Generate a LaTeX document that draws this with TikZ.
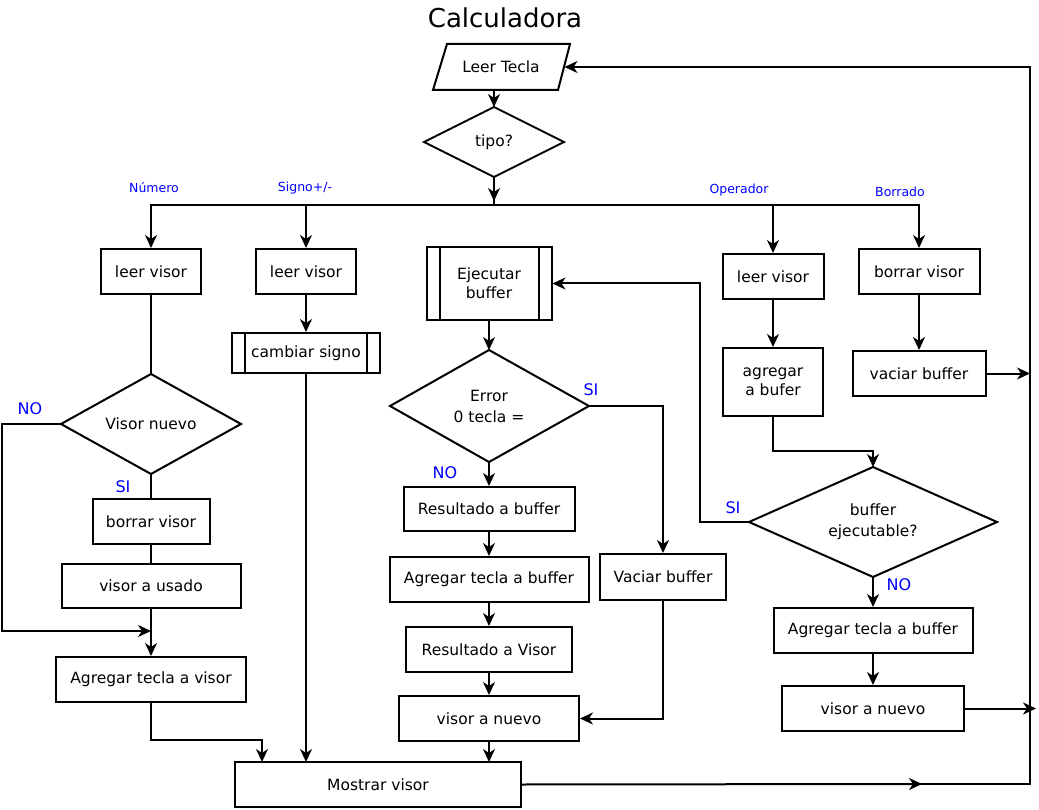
\documentclass[tikz,border=0pt]{standalone}
\usepackage{fontspec}
\setmainfont{DejaVu Sans}
\usetikzlibrary{arrows.meta}
\begin{document}
\begin{tikzpicture}[x=1pt,y=-1pt,line width=2pt,
 box/.style={draw,rectangle,inner sep=0pt,font=\fontsize{15.5}{19}\selectfont,align=center},
 lbl/.style={text=blue,font=\fontsize{12.5}{14}\selectfont},
 yn/.style={text=blue,font=\fontsize{16}{18}\selectfont},
 txt/.style={font=\fontsize{15.5}{21}\selectfont,align=center},
 arr/.style={-{Stealth[length=13pt,width=12pt,inset=4pt]}}]
\useasboundingbox (0,0) rectangle (1039,810);
\node[font=\fontsize{26}{30}\selectfont] (title) at (505,18) {Calculadora};
% Leer tecla
\draw (447,44) -- (570,44) -- (558,90) -- (433,90) -- cycle;
\node[txt,minimum width=125pt,minimum height=46pt,inner sep=0pt] (lt) at (501,67) {Leer Tecla};
% tipo diamond
\draw (494,107) -- (564,142) -- (494,177) -- (424,142) -- cycle;
\node[txt] (tipo) at (494,142) {tipo?};
\coordinate (tipoS) at (494,177);
\draw[arr] (494,90) -- (494,107);
\draw[arr] (tipoS) -- (494,201);
\draw (494,199) -- (494,205);
\draw (150,205) -- (920,205);
\node[lbl] (l1) at (154,188) {Número};
\node[lbl] (l2) at (305,188) {Signo+/-};
\node[lbl] (l3) at (739,190) {Operador};
\node[lbl] (l4) at (900,192) {Borrado};
% column 1
\node[box,minimum width=100pt,minimum height=45pt] (lv1) at (151,271.5) {leer visor};
\draw[arr] (151,205) -- (lv1.north);
\draw (151,374) -- (241,424) -- (151,474) -- (61,424) -- cycle;
\node[txt] (vn) at (151,424) {Visor nuevo};
\coordinate (vnT) at (151,374); \coordinate (vnB) at (151,474); \coordinate (vnL) at (61,424);
\draw (lv1.south) -- (vnT);
\node[yn] (no1) at (30,409) {NO};
\node[yn] (si1) at (123,487) {SI};
\node[box,minimum width=117pt,minimum height=45pt] (bv1) at (151,521.5) {borrar visor};
\node[box,minimum width=179pt,minimum height=44pt] (vu) at (151,586) {visor a usado};
\node[box,minimum width=190pt,minimum height=45pt] (atv) at (151,679.5) {Agregar tecla a visor};
\draw (vnB) -- (bv1.north);
\draw (bv1.south) -- (vu.north);
\coordinate (j1) at (151,631);
\draw[arr] (vnL) -- (2,424) -- (2,631) -- (j1);
\draw[arr] (vu.south) -- (atv.north);
% Mostrar
\node[box,minimum width=286pt,minimum height=45pt] (mv) at (378,784.5) {Mostrar visor};
\draw[arr] (atv.south) -- (151,740) -- (262,740) -- (262,762);
% column 2
\node[box,minimum width=100pt,minimum height=45pt] (lv2) at (306,271.5) {leer visor};
\draw[arr] (306,205) -- (lv2.north);
\node[box,minimum width=148pt,minimum height=40pt] (cs) at (306,353) {cambiar signo};
\draw (245,333) -- (245,373) (367,333) -- (367,373);
\draw[arr] (lv2.south) -- (cs.north);
\draw[arr] (cs.south) -- (306,762);
% column 3
\node[box,minimum width=125pt,minimum height=73pt] (eb) at (489,283.5) {Ejecutar\\buffer};
\draw (440,247) -- (440,320) (539,247) -- (539,320);
\draw (489,350) -- (589,406) -- (489,462) -- (390,406) -- cycle;
\node[txt] (err) at (489,406) {Error\\0 tecla =};
\coordinate (erT) at (489,350); \coordinate (erB) at (489,462); \coordinate (erR) at (589,406);
\draw[arr] (eb.south) -- (erT);
\node[yn] (si2) at (591,390) {SI};
\node[yn] (no2) at (445,473) {NO};
\node[box,minimum width=171pt,minimum height=44pt] (rb) at (489,509) {Resultado a buffer};
\node[box,minimum width=199pt,minimum height=45pt] (atb1) at (489,579.5) {Agregar tecla a buffer};
\node[box,minimum width=166pt,minimum height=45pt] (rv) at (489,649.5) {Resultado a Visor};
\node[box,minimum width=180pt,minimum height=45pt] (vn1) at (489,718.5) {visor a nuevo};
\node[box,minimum width=126pt,minimum height=46pt] (vb) at (663,577) {Vaciar buffer};
\draw[arr] (erB) -- (rb.north);
\draw[arr] (rb.south) -- (atb1.north);
\draw[arr] (atb1.south) -- (rv.north);
\draw[arr] (rv.south) -- (vn1.north);
\draw[arr] (vn1.south) -- (489,762);
\draw[arr] (erR) -- (663,406) -- (vb.north);
\draw[arr] (vb.south) -- (663,718.5) -- (vn1.east);
% column 4
\node[box,minimum width=101pt,minimum height=45pt] (lv4) at (773,276.5) {leer visor};
\draw[arr] (773,205) -- (lv4.north);
\node[box,minimum width=100pt,minimum height=68pt] (ab) at (773,382) {agregar\\a bufer};
\draw[arr] (lv4.south) -- (ab.north);
\draw (873,467) -- (997,522) -- (873,577) -- (749,522) -- cycle;
\node[txt] (be) at (873,522) {buffer\\ejecutable?};
\coordinate (beT) at (873,467); \coordinate (beB) at (873,577); \coordinate (beL) at (749,522);
\draw[arr] (ab.south) -- (773,451) -- (873,451) -- (beT);
\node[yn] (si3) at (733,508) {SI};
\node[yn] (no3) at (899,585) {NO};
\draw[arr] (beL) -- (700,522) -- (700,283.5) -- (eb.east);
\node[box,minimum width=199pt,minimum height=45pt] (atb2) at (873,630.5) {Agregar tecla a buffer};
\node[box,minimum width=182pt,minimum height=45pt] (vn2) at (873,708.5) {visor a nuevo};
\draw[arr] (beB) -- (atb2.north);
\draw[arr] (atb2.south) -- (vn2.north);
\draw[arr] (vn2.east) -- (1036,708.5);
% column 5
\node[box,minimum width=121pt,minimum height=45pt] (bv5) at (919,271.5) {borrar visor};
\draw[arr] (919,205) -- (bv5.north);
\node[box,minimum width=133pt,minimum height=45pt] (vb5) at (919,373.5) {vaciar buffer};
\draw[arr] (bv5.south) -- (vb5.north);
\draw[arr] (vb5.east) -- (1030,373.5);
% return loop
\draw[arr] (mv.east) -- (922,784);
\draw[arr] (920,784) -- (1030,784) -- (1030,67) -- (lt.east);
\end{tikzpicture}
\end{document}
